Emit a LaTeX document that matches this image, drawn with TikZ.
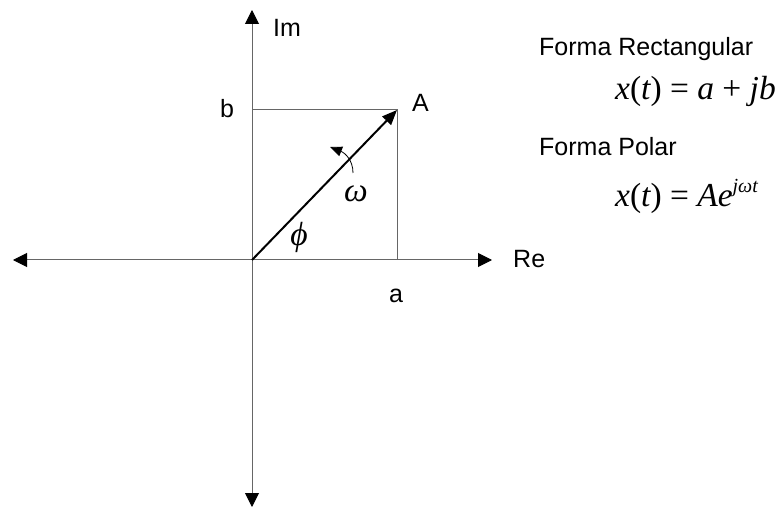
\documentclass[tikz,border=0pt]{standalone}
\usepackage{fontspec}
\setmainfont{Liberation Sans}
\newfontfamily\tms{Liberation Serif}
\usetikzlibrary{arrows.meta}
\tikzset{
  axis/.style={draw=black!60, line width=1pt, -{Triangle[length=14pt,width=14pt,black]}},
  guide/.style={draw=black!60, line width=1pt},
  vec/.style={draw=black, line width=2pt, -{Triangle[length=15pt,width=12pt]}},
  rot/.style={draw=black, line width=0.8pt, -{Triangle[length=12pt,width=10pt]}},
  lab/.style={inner sep=0pt, font=\fontsize{25}{29}\selectfont},
  mth/.style={inner sep=0pt, font=\fontsize{33.5}{37}\selectfont\tms},
}
\begin{document}
\begin{tikzpicture}[x=1pt,y=-1pt]
\useasboundingbox (0,0) rectangle (780,508);
\coordinate (O) at (252,260);
\coordinate (top) at (252,10);
\coordinate (bot) at (252,507);
\coordinate (lft) at (13,260);
\coordinate (rgt) at (492,260);
\coordinate (A) at (397,110);
\coordinate (B) at (252,110);
\coordinate (Ax) at (397,260);
\coordinate (r1) at (353,173);
\coordinate (r2) at (330,147);
% axes
\draw[axis] (O) -- (top);
\draw[axis] (O) -- (bot);
\draw[axis] (O) -- (lft);
\draw[axis] (O) -- (rgt);
% guide lines
\draw[guide] (B) -- (A) -- (Ax);
% vector
\draw[vec] (O) -- (A);
% rotation arrow
\draw[rot] (r1) .. controls (353,160) and (345,153) .. (r2);
% labels
\node[lab, anchor=base west] (im) at (273,37) {Im};
\node[lab, anchor=base west] (re) at (513,268) {Re};
\node[lab, anchor=base] (lb) at (227,118) {b};
\node[lab, anchor=base] (la) at (396,302) {a};
\node[lab, anchor=base west] (lA) at (412,112) {A};
\node[mth, anchor=base] (om) at (356,202) {\itshape ω};
\node[mth, anchor=base] (ph) at (299,245) {\itshape ϕ};
\node[lab, anchor=base west] (f1) at (539,56) {Forma Rectangular};
\node[mth, anchor=base west] (e1) at (615,100) {\itshape x\upshape(\itshape t\upshape) = \itshape a\upshape{} + \itshape jb};
\node[lab, anchor=base west] (f2) at (539,156) {Forma Polar};
\node[mth, anchor=base west] (e2) at (615,207) {\itshape x\upshape(\itshape t\upshape) = \itshape Ae\raisebox{0.42em}{\fontsize{20}{20}\selectfont\itshape jωt}};
\end{tikzpicture}
\end{document}
